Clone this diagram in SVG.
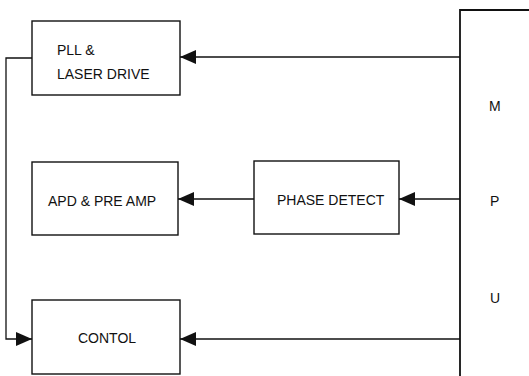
<svg xmlns="http://www.w3.org/2000/svg" width="529" height="376" viewBox="0 0 529 376">
  <style>
    .box { fill: #fff; stroke: #111; stroke-width: 1.4; }
    .wire { fill: none; stroke: #111; stroke-width: 1.3; }
    .bus { fill: none; stroke: #111; stroke-width: 1.8; }
    text { font-family: "Liberation Sans", Arial, sans-serif; font-size: 14px; fill: #111; }
  </style>
  <defs>
    <marker id="arrow" viewBox="0 0 16 14" refX="16" refY="7" markerWidth="16" markerHeight="14" markerUnits="userSpaceOnUse" orient="auto">
      <path d="M0,0 L16,7 L0,14 Z" fill="#111"/>
    </marker>
  </defs>

  <!-- MPU bus edge -->
  <g id="mpu">
    <path class="bus" d="M529,10 H460 V376"/>
    <text x="489" y="111">M</text>
    <text x="490" y="206">P</text>
    <text x="490" y="303">U</text>
  </g>

  <g id="pll">
    <rect class="box" x="32" y="21" width="148" height="74"/>
    <text x="57" y="55">PLL &amp;</text>
    <text x="57" y="79">LASER DRIVE</text>
  </g>

  <g id="apd">
    <rect class="box" x="32" y="162" width="146" height="73"/>
    <text x="48" y="206">APD &amp; PRE AMP</text>
  </g>

  <g id="phase">
    <rect class="box" x="254" y="161" width="145" height="73"/>
    <text x="277" y="205">PHASE DETECT</text>
  </g>

  <g id="control">
    <rect class="box" x="32" y="300" width="148" height="74"/>
    <text x="78" y="343">CONTOL</text>
  </g>

  <g id="connectors">
    <path class="wire" d="M460,57 H180" marker-end="url(#arrow)"/>
    <path class="wire" d="M460,199 H399" marker-end="url(#arrow)"/>
    <path class="wire" d="M254,199 H178" marker-end="url(#arrow)"/>
    <path class="wire" d="M460,339 H180" marker-end="url(#arrow)"/>
    <path class="wire" d="M32,58 H6 V339 H32" marker-end="url(#arrow)"/>
  </g>
</svg>
